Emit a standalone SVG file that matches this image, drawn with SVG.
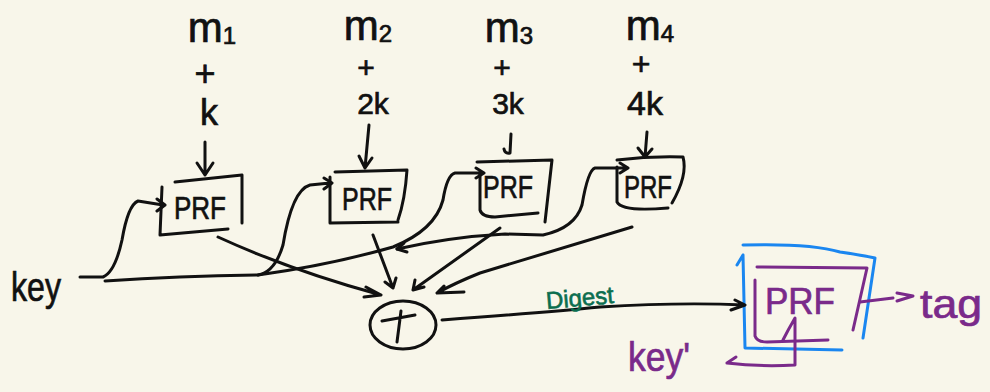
<svg xmlns="http://www.w3.org/2000/svg" width="990" height="392" viewBox="0 0 990 392">
<style>
.bg{fill:#f8f6ea}
.s{fill:none;stroke:#111;stroke-width:3;stroke-linecap:round;stroke-linejoin:round}
.p{fill:none;stroke:#7a2a8a;stroke-width:3;stroke-linecap:round;stroke-linejoin:round}
.b{fill:none;stroke:#1a86f0;stroke-width:3;stroke-linecap:round;stroke-linejoin:round}
.t{font-family:"Liberation Sans",Arial,sans-serif;fill:#111;stroke:#111;stroke-width:0.7;text-anchor:middle}
.pt{font-family:"Liberation Sans",Arial,sans-serif;fill:#7a2a8a;stroke:#7a2a8a;stroke-width:0.7;text-anchor:middle}
.prf{font-size:32px}
</style>
<rect class="bg" width="990" height="392"/>

<g id="input1">
<text class="t" x="212" y="42" font-size="42">m<tspan font-size="24" dy="2">1</tspan></text>
<text class="t" x="205" y="86" font-size="36">+</text>
<text class="t" x="209" y="125" font-size="36">k</text>
</g>
<g id="input2">
<text class="t" x="368" y="40" font-size="42">m<tspan font-size="24" dy="2">2</tspan></text>
<text class="t" x="366" y="78" font-size="30">+</text>
<text class="t" x="373" y="114" font-size="30">2k</text>
</g>
<g id="input3">
<text class="t" x="509" y="42" font-size="42">m<tspan font-size="24" dy="2">3</tspan></text>
<text class="t" x="502" y="78" font-size="30">+</text>
<text class="t" x="508" y="114" font-size="30">3k</text>
</g>
<g id="input4">
<text class="t" x="650" y="40" font-size="42">m<tspan font-size="24" dy="2">4</tspan></text>
<text class="t" x="641" y="75" font-size="32">+</text>
<text class="t" x="645" y="115" font-size="34">4k</text>
</g>

<g id="prf1">
<path class="s" d="M175,182 L242,175 L242,223 M162,187 L160,235 L228,229"/>
<text class="t prf" x="200" y="219" textLength="52" lengthAdjust="spacingAndGlyphs">PRF</text>
</g>
<g id="prf2">
<path class="s" d="M335,172 L407,170 Q405,200 398,220 M330,177 L330,223 L398,222"/>
<text class="t prf" x="367" y="210" textLength="50" lengthAdjust="spacingAndGlyphs">PRF</text>
</g>
<g id="prf3">
<path class="s" d="M477,162 L552,160 L545,222 M480,173 L480,210 Q482,217 495,217 L538,213"/>
<text class="t prf" x="508" y="198" textLength="50" lengthAdjust="spacingAndGlyphs">PRF</text>
</g>
<g id="prf4">
<path class="s" d="M617,160 Q650,156 683,157 Q688,175 672,203 M617,167 L617,202 Q622,212 668,208"/>
<text class="t prf" x="648" y="198" textLength="48" lengthAdjust="spacingAndGlyphs">PRF</text>
</g>

<g id="key">
<text class="t" x="36" y="301" font-size="40" textLength="50" lengthAdjust="spacingAndGlyphs">key</text>
</g>

<g id="xor">
<ellipse class="s" cx="403" cy="325" rx="33" ry="24"/>
<path class="s" d="M382,321 L415,315 M401,311 L397,342"/>
</g>

<g id="prf-final">
<path class="b" d="M743,245 Q810,243 840,252 Q860,255 875,258 L863,338 M743,255 L745,348 L842,350 M737,265 L743,255"/>
<path class="p" d="M757,267 L867,268 L853,330 M755,280 L755,336 Q757,342 767,342 L828,340"/>
<text class="pt" x="800" y="314" font-size="36" textLength="70" lengthAdjust="spacingAndGlyphs">PRF</text>
</g>

<g id="key-prime">
<text class="pt" x="659" y="371" font-size="40" textLength="62" lengthAdjust="spacingAndGlyphs">key'</text>
</g>
<g id="tag">
<text class="pt" x="951" y="318" font-size="40" textLength="62" lengthAdjust="spacingAndGlyphs">tag</text>
</g>

<g id="connectors">
<path class="s" d="M205,142 L205,175 M197,163 L205,175 L213,163"/>
<path class="s" d="M369,125 L365,168 M359,156 L365,168 L372,158"/>
<path class="s" d="M511,134 L510,153 Q505,154 504,149"/>
<path class="s" d="M647,132 L645,157 M638,148 L645,157 L652,149"/>
<path class="s" d="M80,277 L103,277 Q115,272 122,240 Q128,205 138,201 L163,205 M157,199 L165,205 L157,211"/>
<path class="s" d="M105,281 Q180,276 258,275 Q275,272 283,245 Q292,190 310,185 L330,183 M324,178 L332,183 L324,189"/>
<path class="s" d="M258,275 Q330,265 393,247 Q435,230 443,200 Q447,175 455,173 L483,173 M476,168 L484,173 L476,178"/>
<path class="s" d="M397,249 Q450,237 505,234 L543,235 Q575,228 582,205 Q588,170 595,168 L627,168 M620,163 L628,168 L620,173"/>
<path class="s" d="M404,243 L397,249 L407,252"/>
<path class="s" d="M218,237 Q290,270 381,295 M366,287 L381,295 L364,297"/>
<path class="s" d="M373,235 L393,288 M385,282 L393,288 L396,278"/>
<path class="s" d="M500,228 L413,290 M415,280 L413,290 L424,287"/>
<path class="s" d="M632,227 L480,273 Q455,283 437,293 M444,286 L437,293 L464,292"/>
<path class="s" d="M442,320 Q550,312 600,307 Q680,302 745,305 M735,300 L745,305 L731,310"/>
<path class="p" d="M727,363 Q760,367 795,365 L795,318 Q788,330 783,340 M727,363 L736,357"/>
<path class="p" d="M860,302 L893,298 M897,293 L913,296 L897,301"/>
</g>
<text x="580" y="306" transform="rotate(-5 580 300)" font-family="'Liberation Sans',Arial,sans-serif" font-size="24" fill="#0b6e4f" stroke="#0b6e4f" stroke-width="0.6" text-anchor="middle">Digest</text>
</svg>
